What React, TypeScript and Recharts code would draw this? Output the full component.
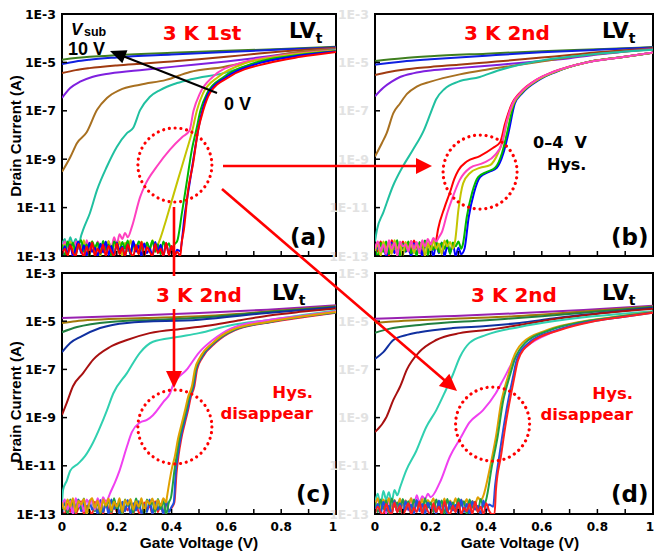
import React from 'react';
import { LineChart, Line, XAxis, YAxis, ReferenceArea, ReferenceDot } from 'recharts';

// ---------- axes ----------
const yTicks = [1e-13, 1e-11, 1e-9, 1e-7, 1e-5, 1e-3];
const yTickLabels = ['1E-13', '1E-11', '1E-9', '1E-7', '1E-5', '1E-3'];
const xTicks = [0, 0.1, 0.2, 0.3, 0.4, 0.5, 0.6, 0.7, 0.8, 0.9, 1];
const xTickLabels = ['0', '', '0.2', '', '0.4', '', '0.6', '', '0.8', '', '1'];
const floorX = [0, 0.01, 0.02, 0.03, 0.04, 0.05, 0.06, 0.07, 0.08, 0.09, 0.1, 0.11, 0.12, 0.13, 0.14, 0.15, 0.16, 0.17, 0.18, 0.19, 0.2, 0.21, 0.22, 0.23, 0.24, 0.25, 0.26, 0.27, 0.28, 0.29, 0.3, 0.31, 0.32, 0.33, 0.34, 0.35, 0.36, 0.37, 0.38, 0.39, 0.4, 0.41, 0.42, 0.43, 0.44];

// ---------- colours (Vsub = 0 V ... 10 V) ----------
const coloursTop = ['#ff0000', '#0000ff', '#00b800', '#c4c400', '#ff40c0', '#20c0a0', '#a87020', '#7f20df', '#a03a10', '#1020e0', '#3f7f1f'];
const coloursBottom = ['#ff2020', '#2050e0', '#20a040', '#e0a000', '#f040f0', '#30d0b0', '#a81010', '#1030a0', '#208040', '#a07808', '#9820b0'];

// ---------- panel (a) 3 K 1st ----------
const a10 = [[0, 1.3e-5], [0.1, 1.7e-5], [0.2, 2.0e-5], [0.4, 2.5e-5], [0.6, 3.0e-5], [0.8, 3.6e-5], [1, 4.4e-5]];
const a9 = [[0, 8.5e-6], [0.05, 1.1e-5], [0.1, 1.3e-5], [0.2, 1.6e-5], [0.4, 2.1e-5], [0.6, 2.7e-5], [0.8, 3.4e-5], [1, 4.2e-5]];
const a8 = [[0, 3.6e-6], [0.05, 4.8e-6], [0.1, 5.8e-6], [0.2, 7.5e-6], [0.3, 9e-6], [0.4, 1.1e-5], [0.5, 1.35e-5], [0.6, 1.7e-5], [0.7, 2.2e-5], [0.8, 2.8e-5], [0.9, 3.4e-5], [1, 4e-5]];
const a7 = [[0, 3.4e-7], [0.03, 8.7e-7], [0.066, 1.6e-6], [0.11, 2.5e-6], [0.175, 3.5e-6], [0.3, 5e-6], [0.48, 8e-6], [0.6, 1.1e-5], [0.7, 1.5e-5], [0.8, 2.1e-5], [0.9, 2.9e-5], [1, 3.8e-5]];
const a6 = [[0, 3e-10], [0.03, 1.2e-9], [0.055, 4.7e-9], [0.09, 1.3e-8], [0.128, 1.1e-7], [0.164, 3.4e-7], [0.21, 7.2e-7], [0.285, 1.2e-6], [0.38, 1.9e-6], [0.467, 4e-6], [0.59, 6.5e-6], [0.71, 1.26e-5], [0.83, 2.4e-5], [1, 3.6e-5]];
const a5Floor = [3e-13, 5e-13, 2e-13, 6e-13, 3e-13, 5e-13, 2.5e-13, 7e-13];
const a5 = [[0.077, 1.2e-12], [0.102, 6e-12], [0.128, 5.4e-11], [0.164, 5e-10], [0.2, 3.2e-9], [0.237, 1.2e-8], [0.26, 2e-8], [0.285, 1.07e-7], [0.32, 3.7e-7], [0.358, 7.2e-7], [0.42, 1.4e-6], [0.47, 2e-6], [0.59, 3.6e-6], [0.71, 9.3e-6], [0.83, 1.7e-5], [1, 3.3e-5]];
const a4Floor = [2e-13, 4e-13, 1.5e-13, 3.5e-13, 1e-13, 4e-13, 2e-13, 3e-13, 1.2e-13, 4.5e-13, 2e-13, 3.5e-13, 1.5e-13, 4e-13, 2.5e-13, 3e-13, 1.3e-13, 4e-13, 2e-13, 6e-13, 3e-13, 8e-13, 5e-13, 9e-13, 6e-13];
const a4 = [[0.255, 1.6e-12], [0.285, 2.7e-11], [0.303, 8.5e-11], [0.346, 5e-10], [0.394, 2.5e-9], [0.44, 8.5e-9], [0.465, 1.5e-8], [0.48, 1e-7], [0.504, 5.4e-7], [0.55, 2.5e-6], [0.65, 9.3e-6], [0.78, 1.8e-5], [1, 3.1e-5]];
const a3Floor = [1.5e-13, 3e-13, 1e-13, 4e-13, 2e-13, 1.2e-13, 3.5e-13, 1.8e-13, 4.5e-13, 1e-13, 2.5e-13, 4e-13, 1.5e-13, 3e-13, 1e-13, 3.8e-13, 2e-13, 4.2e-13, 1.3e-13, 3e-13, 2.2e-13, 4e-13, 1e-13, 3.5e-13, 1.6e-13, 4.5e-13, 2e-13, 3e-13, 1.2e-13, 4e-13, 2.5e-13, 3.5e-13, 1.5e-13, 4.5e-13, 2e-13, 3e-13];
const a3 = [[0.358, 5e-13], [0.375, 2e-12], [0.394, 1.07e-11], [0.423, 1.4e-10], [0.456, 2.5e-9], [0.474, 1.26e-8], [0.492, 1e-7], [0.515, 5.4e-7], [0.57, 2.5e-6], [0.67, 9.3e-6], [0.8, 1.8e-5], [1, 3e-5]];
const a2Floor = [3e-13, 1e-13, 4e-13, 2e-13, 3.5e-13, 1.3e-13, 2.8e-13, 4.5e-13, 1.5e-13, 3e-13, 1e-13, 4e-13, 2.2e-13, 3.6e-13, 1.2e-13, 4.2e-13, 1.8e-13, 3e-13, 1e-13, 4e-13, 2.5e-13, 1.4e-13, 3.8e-13, 2e-13, 4.4e-13, 1.1e-13, 3.2e-13, 1.7e-13, 4e-13, 2.4e-13, 1e-13, 3.6e-13, 2e-13, 4.3e-13, 1.5e-13, 3e-13, 1.2e-13, 4e-13, 2.2e-13, 3.4e-13, 1.6e-13, 3e-13];
const a2 = [[0.42, 4e-13], [0.438, 6.3e-12], [0.456, 1.26e-10], [0.474, 2.5e-9], [0.49, 1.6e-8], [0.505, 1e-7], [0.53, 5.4e-7], [0.59, 2.5e-6], [0.7, 9.3e-6], [0.83, 1.8e-5], [1, 2.9e-5]];
const a1Floor = [1e-13, 2.5e-13, 1.2e-13, 3e-13, 1e-13, 2e-13, 4e-13, 1.3e-13, 2.8e-13, 1e-13, 3.5e-13, 1.5e-13, 2.2e-13, 1e-13, 3.2e-13, 1.4e-13, 4e-13, 1.1e-13, 2.6e-13, 1e-13, 3.6e-13, 1.8e-13, 2.4e-13, 1e-13, 3e-13, 1.2e-13, 4.2e-13, 1.5e-13, 2.7e-13, 1e-13, 3.3e-13, 1.3e-13, 2.1e-13, 1e-13, 3.8e-13, 1.6e-13, 2.9e-13, 1e-13, 3.4e-13, 1.2e-13, 2.5e-13, 1e-13, 1.8e-13];
const a1 = [[0.43, 1.6e-13], [0.449, 6.3e-12], [0.467, 1.26e-10], [0.485, 2.5e-9], [0.5, 2.5e-8], [0.512, 1e-7], [0.535, 5.4e-7], [0.6, 2.5e-6], [0.72, 9.3e-6], [0.85, 1.8e-5], [1, 2.8e-5]];
const a0Floor = [1.2e-13, 2e-13, 1e-13, 2.8e-13, 1.4e-13, 1e-13, 3.2e-13, 1.6e-13, 1e-13, 2.4e-13, 1.2e-13, 3.6e-13, 1e-13, 2e-13, 1.3e-13, 3e-13, 1e-13, 2.6e-13, 1.5e-13, 1e-13, 3.4e-13, 1.2e-13, 2.2e-13, 1e-13, 3e-13, 1.4e-13, 1e-13, 2.8e-13, 1.2e-13, 3.8e-13, 1e-13, 2.3e-13, 1.5e-13, 1e-13, 3.1e-13, 1.3e-13, 2e-13, 1e-13, 3.5e-13, 1.1e-13, 2.6e-13, 1e-13, 1.5e-13];
const a0 = [[0.432, 1e-13], [0.436, 3e-13], [0.445, 1.26e-12], [0.46, 5e-11], [0.478, 6.3e-10], [0.497, 1.6e-8], [0.515, 1e-7], [0.54, 5.4e-7], [0.61, 2.5e-6], [0.75, 9.3e-6], [0.87, 1.7e-5], [1, 2.7e-5]];

// ---------- panel (b) 3 K 2nd, 0-4 V hysteresis ----------
const b10 = [[0, 1.15e-5], [0.1, 1.5e-5], [0.2, 1.8e-5], [0.4, 2.3e-5], [0.6, 2.9e-5], [0.8, 3.5e-5], [1, 4.3e-5]];
const b9 = [[0, 8e-6], [0.05, 9.5e-6], [0.1, 1.1e-5], [0.2, 1.35e-5], [0.4, 1.9e-5], [0.6, 2.6e-5], [0.8, 3.3e-5], [1, 4.1e-5]];
const b8 = [[0, 3e-6], [0.05, 4e-6], [0.1, 5e-6], [0.2, 6.5e-6], [0.3, 8e-6], [0.4, 1e-5], [0.5, 1.25e-5], [0.6, 1.6e-5], [0.7, 2e-5], [0.8, 2.6e-5], [0.9, 3.2e-5], [1, 3.9e-5]];
const b7 = [[0, 4e-7], [0.03, 9e-7], [0.06, 1.6e-6], [0.09, 2.5e-6], [0.14, 3.6e-6], [0.2, 4.6e-6], [0.3, 5.8e-6], [0.45, 8e-6], [0.6, 1.15e-5], [0.7, 1.5e-5], [0.8, 2.1e-5], [0.9, 2.8e-5], [1, 3.7e-5]];
const b6 = [[0, 1.3e-9], [0.025, 4.7e-9], [0.042, 1.2e-8], [0.066, 8e-8], [0.09, 2e-7], [0.115, 5e-7], [0.15, 1e-6], [0.2, 1.6e-6], [0.305, 3.2e-6], [0.4, 5e-6], [0.52, 8e-6], [0.64, 1.3e-5], [0.76, 2e-5], [0.88, 2.7e-5], [1, 3.5e-5]];
const b5Floor = [4e-13];
const b5 = [[0.007, 1.2e-12], [0.03, 6.3e-12], [0.065, 8e-11], [0.1, 5e-10], [0.137, 2.5e-9], [0.176, 1.6e-8], [0.2, 8e-8], [0.22, 3e-7], [0.25, 8e-7], [0.3, 1.6e-6], [0.377, 2.5e-6], [0.44, 4.5e-6], [0.52, 8e-6], [0.6, 1.2e-5], [0.7, 1.7e-5], [0.8, 2.3e-5], [0.9, 2.8e-5], [1, 3.3e-5]];
const b4Floor = [2e-13, 4e-13, 1.5e-13, 3e-13, 1.2e-13, 4.5e-13, 2e-13, 3.5e-13, 1e-13, 4e-13, 2.5e-13, 3e-13, 1.5e-13, 4.2e-13, 2e-13, 3.8e-13, 1.3e-13, 4.5e-13, 2.5e-13, 5e-13, 3e-13, 5.5e-13, 4e-13, 6e-13];
const b4 = [[0.241, 1e-12], [0.26, 6e-12], [0.28, 2.8e-11], [0.305, 1.4e-10], [0.342, 4.4e-10], [0.39, 7e-10], [0.432, 1.5e-9], [0.457, 4.7e-9], [0.472, 3e-8], [0.495, 2e-7], [0.522, 5.4e-7], [0.58, 1.9e-6], [0.64, 4e-6], [0.76, 1e-5], [0.88, 1.6e-5], [1, 2.55e-5]];
const b0Floor = [3e-13, 1.5e-13, 4e-13, 2e-13, 3.5e-13, 1e-13, 4.5e-13, 2.5e-13, 3e-13, 1.2e-13, 4e-13, 2e-13, 3.6e-13, 1.5e-13, 4.4e-13, 2.2e-13, 3e-13, 1e-13, 4e-13, 2.5e-13, 3.5e-13, 2e-13, 4.5e-13];
const b0 = [[0.227, 1.3e-12], [0.25, 1e-11], [0.27, 4.4e-11], [0.285, 1.5e-10], [0.3, 3.5e-10], [0.33, 8e-10], [0.377, 1.35e-9], [0.424, 2.9e-9], [0.45, 5e-9], [0.468, 3e-8], [0.493, 2e-7], [0.52, 5.4e-7], [0.58, 1.9e-6], [0.64, 4e-6], [0.76, 1e-5], [0.88, 1.6e-5], [1, 2.5e-5]];
const b3Floor = [1.5e-13, 3e-13, 1e-13, 4e-13, 2e-13, 3.2e-13, 1.2e-13, 4.5e-13, 2e-13, 3e-13, 1e-13, 3.8e-13, 1.8e-13, 4.2e-13, 1.3e-13, 3e-13, 2.2e-13, 4e-13, 1e-13, 3.5e-13, 1.6e-13, 4.5e-13, 2e-13, 3.3e-13, 1.2e-13, 4.4e-13, 2.5e-13, 3.8e-13, 2e-13];
const b3 = [[0.288, 4e-13], [0.3, 8e-12], [0.317, 1e-10], [0.342, 2.7e-10], [0.377, 4.4e-10], [0.414, 5.7e-10], [0.443, 1.8e-9], [0.46, 6e-9], [0.475, 3.5e-8], [0.498, 2e-7], [0.525, 5.4e-7], [0.585, 1.9e-6], [0.645, 4e-6], [0.76, 1e-5], [0.88, 1.6e-5], [1, 2.5e-5]];
const b2Floor = [2e-13, 1e-13, 3.5e-13, 1.5e-13, 4e-13, 1.2e-13, 3e-13, 2e-13, 4.5e-13, 1e-13, 3.2e-13, 1.6e-13, 4e-13, 1.3e-13, 2.8e-13, 1e-13, 3.8e-13, 2.2e-13, 4.4e-13, 1.1e-13, 3e-13, 1.8e-13, 4.2e-13, 1.4e-13, 3.5e-13, 2e-13, 4.5e-13, 1.2e-13, 3.6e-13, 2.5e-13, 4e-13, 2e-13];
const b2 = [[0.316, 3e-13], [0.33, 4e-12], [0.349, 4e-11], [0.371, 1.8e-10], [0.402, 3e-10], [0.432, 4.4e-10], [0.457, 1.8e-9], [0.475, 1.2e-8], [0.5, 2e-7], [0.527, 5.4e-7], [0.585, 1.9e-6], [0.645, 4e-6], [0.76, 1e-5], [0.88, 1.6e-5], [1, 2.5e-5]];
const b1Floor = [1e-13, 2.4e-13, 1.2e-13, 3e-13, 1e-13, 2e-13, 3.6e-13, 1.3e-13, 2.6e-13, 1e-13, 3.2e-13, 1.5e-13, 2.2e-13, 1e-13, 3.4e-13, 1.2e-13, 2.8e-13, 1e-13, 3.8e-13, 1.6e-13, 2.4e-13, 1e-13, 3e-13, 1.3e-13, 3.6e-13, 1e-13, 2.6e-13, 1.4e-13, 3.2e-13, 1e-13, 2.2e-13, 1.2e-13];
const b1 = [[0.322, 2e-13], [0.337, 4e-12], [0.356, 4e-11], [0.378, 1.8e-10], [0.41, 3e-10], [0.438, 4.4e-10], [0.462, 1.8e-9], [0.48, 1.2e-8], [0.503, 2e-7], [0.53, 5.4e-7], [0.59, 1.9e-6], [0.65, 4e-6], [0.76, 1e-5], [0.88, 1.6e-5], [1, 2.5e-5]];

// ---------- panel (c) 3 K 2nd ----------
const c10 = [[0, 1.35e-5], [0.25, 1.7e-5], [0.5, 2.2e-5], [0.75, 3e-5], [1, 4.6e-5]];
const c9 = [[0, 8.5e-6], [0.05, 1e-5], [0.12, 1.15e-5], [0.3, 1.35e-5], [0.5, 1.6e-5], [0.75, 2.5e-5], [1, 4.2e-5]];
const c8 = [[0, 3.5e-6], [0.055, 5.7e-6], [0.175, 9.3e-6], [0.35, 1.15e-5], [0.5, 1.4e-5], [0.75, 2.4e-5], [1, 4e-5]];
const c7 = [[0, 5.2e-7], [0.03, 1.26e-6], [0.066, 2.2e-6], [0.139, 5.2e-6], [0.237, 8.5e-6], [0.5, 1.15e-5], [0.75, 2.2e-5], [1, 3.8e-5]];
const c6 = [[0, 1.3e-9], [0.018, 4.3e-9], [0.04, 2e-8], [0.077, 7e-8], [0.113, 2.5e-7], [0.175, 8.5e-7], [0.237, 1.66e-6], [0.32, 3.2e-6], [0.45, 5e-6], [0.55, 7e-6], [0.65, 1.1e-5], [0.75, 1.7e-5], [0.88, 2.5e-5], [1, 3.4e-5]];
const c5Floor = [3e-13];
const c5 = [[0.004, 1e-12], [0.018, 2.5e-12], [0.03, 6.3e-12], [0.06, 1.26e-11], [0.084, 2.5e-11], [0.113, 9e-11], [0.139, 4e-10], [0.164, 2e-9], [0.187, 1e-8], [0.237, 7e-8], [0.285, 5e-7], [0.332, 1.4e-6], [0.42, 2.2e-6], [0.5, 3.2e-6], [0.62, 7e-6], [0.75, 1.1e-5], [0.88, 1.8e-5], [1, 2.8e-5]];
const c4Floor = [2e-13, 4e-13, 1.5e-13, 3.5e-13, 1e-13, 4.5e-13, 2e-13, 3e-13, 1.3e-13, 4e-13, 2.5e-13, 3.8e-13, 1.5e-13, 4.5e-13, 2e-13, 5e-13, 3e-13, 5e-13];
const c4 = [[0.175, 7e-13], [0.193, 2e-12], [0.21, 6.3e-12], [0.237, 6.3e-11], [0.255, 2.5e-10], [0.285, 6.3e-10], [0.31, 8e-10], [0.332, 1.26e-9], [0.37, 4.5e-9], [0.394, 1e-8], [0.405, 2.2e-8], [0.456, 1e-7], [0.5, 5e-7], [0.55, 1.66e-6], [0.62, 5.2e-6], [0.75, 1.1e-5], [0.88, 1.7e-5], [1, 2.6e-5]];
const c3Floor = [3e-13, 1.5e-13, 4e-13, 2e-13, 4.5e-13, 1.2e-13, 3.5e-13, 2.5e-13, 4.2e-13, 1e-13, 3e-13, 4.5e-13, 1.8e-13, 3.6e-13, 1.2e-13, 4e-13, 2.2e-13, 4.4e-13, 1.4e-13, 3.2e-13, 2e-13, 4.5e-13, 1.2e-13, 3.8e-13, 2.4e-13, 4.2e-13, 1.5e-13, 3.4e-13, 2e-13, 4.5e-13, 1.3e-13, 3.6e-13, 2.6e-13, 4.4e-13, 1.6e-13, 3.8e-13, 2.2e-13, 4.5e-13, 3e-13];
const c3 = [[0.383, 5e-13], [0.4, 6.8e-12], [0.412, 2.5e-11], [0.423, 1.26e-10], [0.438, 6.3e-10], [0.449, 2e-9], [0.46, 7e-9], [0.474, 2e-8], [0.485, 1e-7], [0.504, 3.2e-7], [0.55, 1.26e-6], [0.62, 4.3e-6], [0.75, 9.3e-6], [0.88, 1.6e-5], [1, 2.4e-5]];
const c2Floor = [1.5e-13, 3.5e-13, 1e-13, 4e-13, 2e-13, 1.2e-13, 3.8e-13, 1.6e-13, 4.4e-13, 1e-13, 2.8e-13, 4e-13, 1.3e-13, 3.2e-13, 1e-13, 4.2e-13, 2e-13, 3.6e-13, 1.2e-13, 4.5e-13, 1.5e-13, 3e-13, 1e-13, 4e-13, 2.2e-13, 3.4e-13, 1.1e-13, 4.4e-13, 1.8e-13, 3.6e-13, 1e-13, 4e-13, 2.4e-13, 3e-13, 1.2e-13, 4.2e-13, 1.6e-13, 3.5e-13, 1e-13, 3e-13];
const c2 = [[0.398, 5e-13], [0.41, 6e-12], [0.418, 2.5e-11], [0.428, 1.26e-10], [0.442, 6.3e-10], [0.453, 2e-9], [0.464, 7e-9], [0.477, 2e-8], [0.488, 1e-7], [0.507, 3.2e-7], [0.553, 1.26e-6], [0.625, 4.3e-6], [0.755, 9.3e-6], [0.88, 1.6e-5], [1, 2.35e-5]];
const c1Floor = [1e-13, 2.8e-13, 1.2e-13, 3.4e-13, 1e-13, 2.2e-13, 4e-13, 1.3e-13, 2.6e-13, 1e-13, 3.6e-13, 1.5e-13, 2.4e-13, 1e-13, 3.8e-13, 1.2e-13, 3e-13, 1e-13, 4e-13, 1.6e-13, 2.6e-13, 1e-13, 3.2e-13, 1.3e-13, 3.8e-13, 1e-13, 2.8e-13, 1.4e-13, 3.4e-13, 1e-13, 2.4e-13, 1.2e-13, 4e-13, 1e-13, 3e-13, 1.5e-13, 2.6e-13, 1e-13, 3.6e-13, 1.2e-13, 2e-13];
const c1 = [[0.408, 3e-13], [0.415, 5e-12], [0.422, 2.5e-11], [0.432, 1.26e-10], [0.446, 6.3e-10], [0.457, 2e-9], [0.467, 7e-9], [0.48, 2e-8], [0.49, 1e-7], [0.51, 3.2e-7], [0.556, 1.26e-6], [0.628, 4.3e-6], [0.76, 9.3e-6], [0.88, 1.55e-5], [1, 2.3e-5]];
const c0Floor = [1.3e-13, 1e-13, 2.6e-13, 1.2e-13, 3e-13, 1e-13, 1.8e-13, 3.4e-13, 1e-13, 2.2e-13, 1.4e-13, 1e-13, 3.2e-13, 1.2e-13, 2.4e-13, 1e-13, 3.6e-13, 1.5e-13, 1e-13, 2.8e-13, 1.2e-13, 3.2e-13, 1e-13, 2e-13, 1.4e-13, 3.8e-13, 1e-13, 2.4e-13, 1.2e-13, 1e-13, 3e-13, 1.5e-13, 2.2e-13, 1e-13, 3.4e-13, 1.2e-13, 2.6e-13, 1e-13, 3e-13, 1.4e-13, 1.8e-13];
const c0 = [[0.41, 3e-13], [0.418, 5e-12], [0.425, 2.5e-11], [0.435, 1.26e-10], [0.449, 6.3e-10], [0.46, 2e-9], [0.47, 7e-9], [0.483, 2e-8], [0.493, 1e-7], [0.513, 3.2e-7], [0.56, 1.26e-6], [0.632, 4.3e-6], [0.765, 9.3e-6], [0.885, 1.5e-5], [1, 2.25e-5]];

// ---------- panel (d) 3 K 2nd ----------
const d10 = [[0, 1.25e-5], [0.25, 1.6e-5], [0.5, 2.1e-5], [0.75, 2.9e-5], [1, 4.4e-5]];
const d9 = [[0, 8.5e-6], [0.05, 9.5e-6], [0.15, 1.1e-5], [0.3, 1.3e-5], [0.5, 1.6e-5], [0.75, 2.5e-5], [1, 4.1e-5]];
const d8 = [[0, 3.3e-6], [0.05, 4.8e-6], [0.16, 7e-6], [0.4, 1.1e-5], [0.6, 1.6e-5], [0.8, 2.5e-5], [1, 3.9e-5]];
const d7 = [[0, 2.7e-7], [0.03, 5.2e-7], [0.066, 1.66e-6], [0.115, 2.7e-6], [0.16, 3.5e-6], [0.28, 5.2e-6], [0.4, 6.3e-6], [0.52, 8.5e-6], [0.64, 1.3e-5], [0.76, 1.9e-5], [0.88, 2.6e-5], [1, 3.6e-5]];
const d6 = [[0, 2.5e-10], [0.042, 1.1e-9], [0.066, 5.4e-9], [0.09, 1.9e-8], [0.115, 1e-7], [0.16, 5.4e-7], [0.22, 1.66e-6], [0.305, 3.2e-6], [0.4, 4.3e-6], [0.52, 7e-6], [0.64, 1.2e-5], [0.76, 1.8e-5], [0.88, 2.5e-5], [1, 3.3e-5]];
const d5Floor = [3e-13, 7e-13, 2e-13, 9e-13, 4e-13, 8e-13, 3e-13, 1e-12, 6e-13];
const d5 = [[0.09, 1.26e-12], [0.112, 6.3e-12], [0.148, 4e-11], [0.184, 4e-10], [0.22, 2e-9], [0.255, 1.4e-8], [0.28, 6e-8], [0.305, 3.2e-7], [0.34, 1.26e-6], [0.4, 2.7e-6], [0.52, 5.8e-6], [0.64, 1e-5], [0.76, 1.5e-5], [0.88, 2e-5], [1, 2.6e-5]];
const d4Floor = [2.5e-13, 4e-13, 1.5e-13, 3.5e-13, 1e-13, 4.5e-13, 2e-13, 3e-13, 1.2e-13, 4e-13, 2.2e-13, 3.6e-13, 1.4e-13, 4.5e-13, 2e-13, 6e-13, 3e-13, 5.5e-13, 4e-13, 7e-13];
const d4 = [[0.2, 5e-13], [0.233, 2e-12], [0.27, 2.5e-11], [0.305, 1.26e-10], [0.34, 6.3e-10], [0.388, 2e-9], [0.435, 1.05e-8], [0.46, 3.5e-8], [0.5, 2.5e-7], [0.546, 9e-7], [0.64, 3.5e-6], [0.76, 9e-6], [0.88, 1.5e-5], [1, 2.4e-5]];
const d3Floor = [2e-13, 4.5e-13, 1.5e-13, 4e-13, 2.5e-13, 4.5e-13, 1.2e-13, 3.8e-13, 2e-13, 4.4e-13, 1e-13, 3.6e-13, 2.4e-13, 4.5e-13, 1.4e-13, 3.2e-13, 2e-13, 4.2e-13, 1.2e-13, 3.8e-13, 2.6e-13, 4.5e-13, 1.5e-13, 3.4e-13, 2e-13, 4.4e-13, 1.2e-13, 3.6e-13, 2.2e-13, 4.5e-13, 1.6e-13, 3.8e-13, 2.4e-13, 4.2e-13, 1.3e-13, 3.5e-13, 2.5e-13, 5e-13, 3.5e-13];
const d3 = [[0.388, 5e-13], [0.414, 9e-12], [0.435, 1.6e-10], [0.455, 5e-9], [0.465, 1.5e-8], [0.48, 6e-8], [0.495, 2.5e-7], [0.53, 1.26e-6], [0.62, 4.3e-6], [0.75, 1e-5], [0.88, 1.6e-5], [1, 2.4e-5]];
const d2Floor = [3e-13, 1.2e-13, 4e-13, 1.6e-13, 3.6e-13, 1e-13, 4.4e-13, 2e-13, 3e-13, 1.2e-13, 4.2e-13, 1.5e-13, 3.4e-13, 1e-13, 4e-13, 2.2e-13, 3.2e-13, 1e-13, 4.5e-13, 1.8e-13, 3e-13, 1.2e-13, 4e-13, 2e-13, 3.6e-13, 1e-13, 4.2e-13, 1.6e-13, 3e-13, 1.3e-13, 4.4e-13, 2.2e-13, 3.4e-13, 1e-13, 4e-13, 1.8e-13, 3.2e-13, 1.2e-13, 4.2e-13, 2e-13];
const d2 = [[0.4, 4e-13], [0.42, 9e-12], [0.441, 1.6e-10], [0.461, 5e-9], [0.471, 1.5e-8], [0.486, 6e-8], [0.502, 2.5e-7], [0.54, 1.26e-6], [0.63, 4.3e-6], [0.76, 1e-5], [0.88, 1.55e-5], [1, 2.35e-5]];
const d1Floor = [1.2e-13, 2.6e-13, 1e-13, 3.2e-13, 1.4e-13, 2.2e-13, 1e-13, 3.6e-13, 1.2e-13, 2.8e-13, 1e-13, 3.4e-13, 1.5e-13, 2.4e-13, 1e-13, 3.8e-13, 1.3e-13, 2.6e-13, 1e-13, 3e-13, 1.6e-13, 2.2e-13, 1e-13, 3.6e-13, 1.2e-13, 2.8e-13, 1e-13, 3.2e-13, 1.4e-13, 2.4e-13, 1e-13, 4e-13, 1.2e-13, 2.6e-13, 1e-13, 3.4e-13, 1.5e-13, 2.2e-13, 1e-13, 3.6e-13, 1.3e-13, 2.5e-13];
const d1 = [[0.425, 2e-13], [0.432, 1.5e-12], [0.448, 3e-11], [0.466, 7e-10], [0.484, 1e-8], [0.495, 4e-8], [0.51, 2.5e-7], [0.552, 1.26e-6], [0.655, 4.3e-6], [0.775, 9.7e-6], [0.89, 1.5e-5], [1, 2.3e-5]];
const d0Floor = [1e-13, 2e-13, 1.2e-13, 1e-13, 2.6e-13, 1.3e-13, 1e-13, 3e-13, 1.2e-13, 2.2e-13, 1e-13, 1.5e-13, 2.8e-13, 1e-13, 1.8e-13, 1.2e-13, 3.2e-13, 1e-13, 2.4e-13, 1.3e-13, 1e-13, 2.8e-13, 1.2e-13, 2e-13, 1e-13, 3.4e-13, 1.4e-13, 1e-13, 2.2e-13, 1.2e-13, 3e-13, 1e-13, 1.8e-13, 1.3e-13, 2.6e-13, 1e-13, 3.2e-13, 1.2e-13, 2e-13, 1e-13, 2.8e-13, 1.4e-13, 1e-13];
const d0 = [[0.43, 1e-13], [0.435, 1e-12], [0.453, 2.5e-11], [0.471, 6.3e-10], [0.49, 1.05e-8], [0.5, 4e-8], [0.515, 2.5e-7], [0.56, 1.26e-6], [0.665, 4.3e-6], [0.78, 9.5e-6], [0.89, 1.5e-5], [1, 2.25e-5]];

// dotted-circle centres (data coordinates)
const circleA = { x: 0.412, y: 5.75e-10 };
const circleB = { x: 0.378, y: 2.95e-10 };
const circleC = { x: 0.412, y: 4.1e-10 };
const circleD = { x: 0.423, y: 5.4e-10 };

type Pt = { x: number; y: number };
const build = (floor: number[], rise: number[][]): Pt[] => {
  const first = rise.length ? rise[0][0] : 1;
  const f = floor.map((y, i) => ({ x: floorX[i], y })).filter((p) => p.x < first);
  return f.concat(rise.map(([x, y]) => ({ x, y })));
};

type S = { v: number; data: Pt[] };
const mk = (v: number, rise: number[][], floor: number[] = []): S => ({ v, data: build(floor, rise) });

const seriesA: S[] = [mk(10, a10), mk(9, a9), mk(8, a8), mk(7, a7), mk(6, a6), mk(5, a5, a5Floor), mk(4, a4, a4Floor), mk(3, a3, a3Floor), mk(2, a2, a2Floor), mk(1, a1, a1Floor), mk(0, a0, a0Floor)];
const seriesB: S[] = [mk(10, b10), mk(9, b9), mk(8, b8), mk(7, b7), mk(6, b6), mk(5, b5, b5Floor), mk(0, b0, b0Floor), mk(1, b1, b1Floor), mk(2, b2, b2Floor), mk(3, b3, b3Floor), mk(4, b4, b4Floor)];
const seriesC: S[] = [mk(10, c10), mk(9, c9), mk(8, c8), mk(7, c7), mk(6, c6), mk(5, c5, c5Floor), mk(0, c0, c0Floor), mk(1, c1, c1Floor), mk(2, c2, c2Floor), mk(4, c4, c4Floor), mk(3, c3, c3Floor)];
const seriesD: S[] = [mk(10, d10), mk(9, d9), mk(8, d8), mk(7, d7), mk(6, d6), mk(5, d5, d5Floor), mk(4, d4, d4Floor), mk(3, d3, d3Floor), mk(2, d2, d2Floor), mk(1, d1, d1Floor), mk(0, d0, d0Floor)];

const FA = '"Liberation Sans", Arial, sans-serif';
const FD = '"DejaVu Sans", sans-serif';
const RED = '#ff0000';

const DottedCircle = (p: any) => (
  <circle cx={p.cx} cy={p.cy} r={37} fill="none" stroke={RED} strokeWidth={3.2} strokeDasharray="0.01 5.8" strokeLinecap="round" />
);

function makeYTick(color: string) {
  return (p: any) => {
    const i = yTicks.indexOf(p.payload.value);
    return (
      <g>
        <line x1={p.x} x2={p.x + 5} y1={p.y} y2={p.y} stroke="#000" strokeWidth={1.5} />
        <text x={p.x - 6} y={p.y + 4.5} textAnchor="end" fontFamily={FD} fontWeight="bold" fontSize={12.5} fill={color}>
          {i >= 0 ? yTickLabels[i] : ''}
        </text>
      </g>
    );
  };
}
function makeXTick(showLabels: boolean) {
  return (p: any) => {
    const last = p.index === xTicks.length - 1;
    return (
      <g>
        <line x1={p.x} x2={p.x} y1={p.y} y2={p.y - 5} stroke="#000" strokeWidth={1.5} />
        {showLabels ? (
          <text x={last ? p.x + 1 : p.x} y={p.y + 17} textAnchor={last ? 'end' : 'middle'} fontFamily={FD} fontWeight="bold" fontSize={12} fill="#000">
            {xTickLabels[p.index]}
          </text>
        ) : null}
      </g>
    );
  };
}

function Panel(props: { left: number; top: number; width: number; height: number; right: number; xh: number; series: S[]; colours: string[]; showX: boolean; yColor: string; circle: { x: number; y: number } }) {
  const { left, top, width, height, right, xh, series, colours, showX, yColor, circle } = props;
  return (
    <div style={{ position: 'absolute', left, top, width, height }}>
      <LineChart width={width} height={height} margin={{ top: 14, right, left: 0, bottom: 0 }}>
        <XAxis dataKey="x" type="number" domain={[0, 1]} allowDataOverflow ticks={xTicks} interval={0} height={xh} axisLine={false} tickLine={false} tickSize={0} tickMargin={0} tick={makeXTick(showX)} />
        <YAxis type="number" scale="log" domain={[1e-13, 1e-3]} allowDataOverflow ticks={yTicks} interval={0} width={62} axisLine={false} tickLine={false} tickSize={0} tickMargin={0} tick={makeYTick(yColor)} />
        {series.map((s) => (
          <Line key={s.v} data={s.data} dataKey="y" name={`${s.v} V`} type="monotoneX" stroke={colours[s.v]} strokeWidth={2} dot={false} activeDot={false} isAnimationActive={false} />
        ))}
        <ReferenceArea x1={0} x2={1} y1={1e-13} y2={1e-3} fill="none" stroke="#000" strokeWidth={2} ifOverflow="visible" />
        <ReferenceDot x={circle.x} y={circle.y} r={37} shape={DottedCircle} ifOverflow="visible" />
      </LineChart>
    </div>
  );
}

const arrows = [
  { x1: 223, y1: 166, x2: 432, y2: 166, c: RED, w: 2.6, len: 16, half: 8 },
  { x1: 222, y1: 189, x2: 457, y2: 391, c: RED, w: 2.6, len: 17, half: 8 },
  { x1: 174, y1: 207, x2: 174, y2: 388, c: RED, w: 2.6, len: 17, half: 8 },
  { x1: 217, y1: 93, x2: 110, y2: 51, c: '#000', w: 2, len: 16, half: 7 },
];

function Arrow({ a }: { a: (typeof arrows)[number] }) {
  const dx = a.x2 - a.x1;
  const dy = a.y2 - a.y1;
  const L = Math.hypot(dx, dy);
  const ux = dx / L;
  const uy = dy / L;
  const bx = a.x2 - ux * a.len;
  const by = a.y2 - uy * a.len;
  const nx = -uy * a.half;
  const ny = ux * a.half;
  return (
    <g>
      <line x1={a.x1} y1={a.y1} x2={bx + ux} y2={by + uy} stroke={a.c} strokeWidth={a.w} />
      <polygon points={`${a.x2},${a.y2} ${bx + nx},${by + ny} ${bx - nx},${by - ny}`} fill={a.c} />
    </g>
  );
}

function LVt({ x, y }: { x: number; y: number }) {
  return (
    <text x={x} y={y} fontFamily={FD} fontWeight="bold" fontSize={21} fill="#000">
      LV<tspan fontSize={14} dy={5}>t</tspan>
    </text>
  );
}

function Overlay() {
  const bold = { fontWeight: 'bold' as const };
  return (
    <svg width={654} height={552} style={{ position: 'absolute', left: 0, top: 0, pointerEvents: 'none' }}>
      {arrows.map((a, i) => (
        <Arrow key={i} a={a} />
      ))}
      <rect x={150} y={276} width={100} height={33} fill="#fff" />

      {/* axis titles */}
      <text transform="translate(21,136) rotate(-90)" textAnchor="middle" fontFamily={FA} fontSize={15} {...bold}>Drain Current (A)</text>
      <text transform="translate(21,402) rotate(-90)" textAnchor="middle" fontFamily={FA} fontSize={15} {...bold}>Drain Current (A)</text>
      <text x={199} y={548} textAnchor="middle" fontFamily={FA} fontSize={15.5} {...bold}>Gate Voltage (V)</text>
      <text x={520} y={548} textAnchor="middle" fontFamily={FA} fontSize={15.5} {...bold}>Gate Voltage (V)</text>

      {/* panel a */}
      <text x={202} y={40} textAnchor="middle" fontFamily={FD} fontSize={20} fill={RED} {...bold}>3 K 1st</text>
      <LVt x={289} y={38} />
      <text x={71} y={35} fontFamily={FA} fontSize={17} fontStyle="italic" {...bold}>V</text>
      <text x={84} y={36} fontFamily={FA} fontSize={12.5} {...bold}>sub</text>
      <text x={68} y={55} fontFamily={FA} fontSize={18} {...bold}>10 V</text>
      <text x={224} y={110} fontFamily={FA} fontSize={18} {...bold}>0 V</text>
      <text x={290} y={245} fontFamily={FD} fontSize={23} {...bold}>(a)</text>

      {/* panel b */}
      <text x={507} y={40} textAnchor="middle" fontFamily={FD} fontSize={20} fill={RED} {...bold}>3 K 2nd</text>
      <LVt x={602} y={38} />
      <text x={533} y={148} fontFamily={FD} fontSize={16} {...bold}>0–4{'\u00A0\u00A0'}V</text>
      <text x={547} y={170} fontFamily={FD} fontSize={16} {...bold}>Hys.</text>
      <text x={611} y={245} fontFamily={FD} fontSize={23} {...bold}>(b)</text>

      {/* panel c */}
      <text x={199} y={302} textAnchor="middle" fontFamily={FD} fontSize={20} fill={RED} {...bold}>3 K 2nd</text>
      <LVt x={272} y={300} />
      <text x={313} y={398} textAnchor="end" fontFamily={FD} fontSize={16.5} fill={RED} {...bold}>Hys.</text>
      <text x={313} y={419} textAnchor="end" fontFamily={FD} fontSize={16.5} fill={RED} {...bold}>disappear</text>
      <text x={296} y={502} fontFamily={FD} fontSize={23} {...bold}>(c)</text>

      {/* panel d */}
      <text x={514} y={302} textAnchor="middle" fontFamily={FD} fontSize={20} fill={RED} {...bold}>3 K 2nd</text>
      <LVt x={602} y={300} />
      <text x={633} y={399} textAnchor="end" fontFamily={FD} fontSize={16.5} fill={RED} {...bold}>Hys.</text>
      <text x={633} y={420} textAnchor="end" fontFamily={FD} fontSize={16.5} fill={RED} {...bold}>disappear</text>
      <text x={611} y={502} fontFamily={FD} fontSize={23} {...bold}>(d)</text>
    </svg>
  );
}

export default function App() {
  return (
    <div style={{ position: 'absolute', left: 0, top: 0, width: 654, height: 552, background: '#fff', overflow: 'hidden' }}>
      <Panel left={0} top={0} width={340} height={300} right={4} xh={44} series={seriesA} colours={coloursTop} showX={false} yColor="#000" circle={circleA} />
      <Panel left={313} top={0} width={341} height={300} right={1} xh={44} series={seriesB} colours={coloursTop} showX={false} yColor="#e2e2e2" circle={circleB} />
      <Panel left={0} top={259} width={340} height={293} right={4} xh={38} series={seriesC} colours={coloursBottom} showX={true} yColor="#000" circle={circleC} />
      <Panel left={313} top={259} width={341} height={293} right={1} xh={38} series={seriesD} colours={coloursBottom} showX={true} yColor="#e2e2e2" circle={circleD} />
      <Overlay />
    </div>
  );
}
